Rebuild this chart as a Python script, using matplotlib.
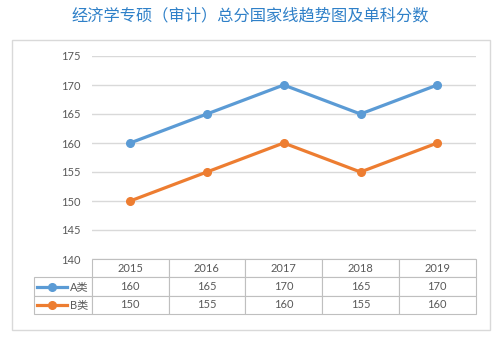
import matplotlib
matplotlib.use('Agg')
import matplotlib.pyplot as plt
from matplotlib.patches import Rectangle

plt.rcParams['font.family'] = ['Lato', 'Noto Sans CJK SC', 'DejaVu Sans']

years = ['2015', '2016', '2017', '2018', '2019']
a_scores = [160, 165, 170, 165, 170]
b_scores = [150, 155, 160, 155, 160]
series_names = ['A类', 'B类']
title = '经济学专硕（审计）总分国家线趋势图及单科分数'

blue = '#5b9bd5'
orange = '#ed7d31'
grey_txt = '#595959'
grid_col = '#d9d9d9'

fig = plt.figure(figsize=(5.04, 3.40), dpi=100)
fig.patch.set_facecolor('white')

# outer chart frame
fig.patches.append(Rectangle((12/504, 10/340), 478/504, 290/340, transform=fig.transFigure,
                             fill=False, edgecolor='#d9d9d9', linewidth=1.0))

fig.text(0.497, 1 - 16/340, title, ha='center', va='center', fontsize=11.7,
         color='#2f80c8', family=['Noto Sans CJK SC', 'DejaVu Sans'])

ax = fig.add_axes([91.7/504, 81/340, 384/504, 203/340])
x = range(len(years))
ax.plot(x, a_scores, color=blue, lw=2.3, marker='o', ms=5.5, zorder=3)
ax.plot(x, b_scores, color=orange, lw=2.3, marker='o', ms=5.5, zorder=3)

ax.set_xlim(-0.5, len(years) - 0.5)
ax.set_ylim(140, 175)
ax.set_yticks(range(140, 176, 5))
ax.yaxis.grid(True, color=grid_col, lw=1.0)
ax.set_axisbelow(True)
ax.set_xticks([])
for s in ax.spines.values():
    s.set_visible(False)
ax.tick_params(axis='y', length=0, pad=8, labelsize=8, labelcolor=grey_txt)

# data table under the plot; first column holds the series names
label_w = 57.7 / 384
col_w = (1.0) / len(years)
rows = [[series_names[0]] + [str(v) for v in a_scores],
        [series_names[1]] + [str(v) for v in b_scores]]
tab = ax.table(cellText=rows, colLabels=[''] + years, cellLoc='center',
               colWidths=[label_w] + [col_w] * len(years),
               bbox=[-label_w, -55/203, 1 + label_w, 55/203])
tab.auto_set_font_size(False)
tab.set_fontsize(8)
for (r, c), cell in tab.get_celld().items():
    cell.set_edgecolor('#bfbfbf')
    cell.set_linewidth(0.8)
    cell.get_text().set_color(grey_txt)
    if r == 0 and c == 0:
        cell.set_visible(False)
    elif c == 0:
        cell._loc = 'right'
        cell.get_text().set_horizontalalignment('right')
        cell.PAD = 0.06

# legend keys inside the name cells
for yk, col in [(-28.4/203, blue), (-46.3/203, orange)]:
    ax.plot([-0.142, -0.064], [yk, yk], color=col, lw=2.3, transform=ax.transAxes,
            clip_on=False)
    ax.plot([-0.103], [yk], color=col, marker='o', ms=5.5, transform=ax.transAxes,
            clip_on=False)

fig.savefig('out.png', dpi=100)
